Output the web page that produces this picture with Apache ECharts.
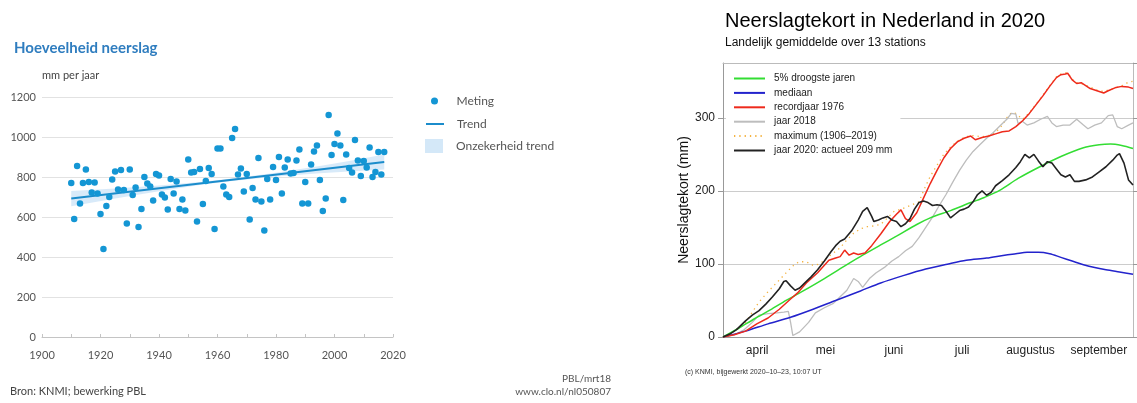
<!DOCTYPE html>
<html>
<head>
<meta charset="utf-8">
<script src="https://cdn.jsdelivr.net/npm/echarts@6/dist/echarts.min.js"></script>
<style>
html, body { margin: 0; padding: 0; background: #fff; }
#chart { width: 1137px; height: 403px; }
</style>
</head>
<body>
<div id="chart"></div>
<script>
// linker grafiek: jaarlijkse neerslag
const years = [1910, 1911, 1912, 1913, 1914, 1915, 1916, 1917, 1918, 1919,
  1920, 1921, 1922, 1923, 1924, 1925, 1926, 1927, 1928, 1929,
  1930, 1931, 1932, 1933, 1934, 1935, 1936, 1937, 1938, 1939,
  1940, 1941, 1942, 1943, 1944, 1945, 1946, 1947, 1948, 1949,
  1950, 1951, 1952, 1953, 1954, 1955, 1956, 1957, 1958, 1959,
  1960, 1961, 1962, 1963, 1964, 1965, 1966, 1967, 1968, 1969,
  1970, 1971, 1972, 1973, 1974, 1975, 1976, 1977, 1978, 1979,
  1980, 1981, 1982, 1983, 1984, 1985, 1986, 1987, 1988, 1989,
  1990, 1991, 1992, 1993, 1994, 1995, 1996, 1997, 1998, 1999,
  2000, 2001, 2002, 2003, 2004, 2005, 2006, 2007, 2008, 2009,
  2010, 2011, 2012, 2013, 2014, 2015, 2016, 2017]
const rainfall = [770, 590, 855, 667, 770, 838, 775, 723, 773, 717,
  615, 440, 655, 700, 788, 827, 738, 835, 735, 567,
  838, 710, 747, 550, 640, 800, 767, 753, 682, 815,
  808, 713, 698, 637, 790, 718, 777, 640, 687, 632,
  888, 823, 825, 577, 840, 665, 780, 845, 815, 540,
  942, 942, 752, 713, 700, 995, 1040, 813, 842, 727,
  815, 587, 745, 688, 895, 678, 533, 790, 687, 850,
  785, 900, 717, 847, 887, 817, 820, 882, 938, 668,
  775, 668, 862, 927, 957, 785, 630, 692, 1110, 910,
  965, 1017, 957, 685, 912, 845, 822, 985, 883, 805,
  880, 847, 947, 800, 825, 925, 812, 925]
const trendYears = [1910, 2017]
const trendValues = [692, 875]
const bandYears = [1910, 1925, 1940, 1955, 1965, 1980, 1995, 2005, 2017]
const bandLow = [654, 693, 729, 762, 780, 803, 819, 828, 837]
const bandHigh = [730, 743, 757, 776, 792, 821, 855, 880, 913]

// rechter grafiek: neerslagtekort, [dag sinds 1 april, mm]
const months = ['april', 'mei', 'juni', 'juli', 'augustus', 'september']
const droogste = [[0, 0], [7, 12], [14, 25], [21, 37], [28, 50], [35, 62], [45, 80], [55, 99], [62, 112], [70, 126],
  [77, 138], [86, 154], [92, 163], [101, 173], [110, 184], [116, 191], [123, 201], [131, 217], [140, 232],
  [150, 247], [160, 259], [167, 263], [172, 264], [177, 262], [182, 258]]
const mediaan = [[0, 0], [10, 8], [20, 18], [30, 27], [40, 38], [50, 50], [61, 63], [70, 74], [80, 84], [90, 93],
  [100, 100], [108, 105], [117, 108], [125, 112], [130, 114], [135, 116], [140, 116], [145, 114], [150, 109],
  [155, 104], [160, 99], [165, 95], [170, 92], [176, 89], [182, 86]]
const record1976 = [[0, 0], [5, 3], [10, 8], [15, 18], [20, 26], [25, 38], [30, 52], [33, 60], [37, 74], [42, 88],
  [47, 105], [50, 108], [52, 110], [54, 119], [56, 112], [58, 115], [60, 113], [63, 115], [66, 125], [70, 141],
  [74, 158], [77, 168], [79, 174], [81, 162], [83, 158], [86, 170], [89, 190], [92, 210], [95, 228], [98, 245],
  [101, 258], [104, 267], [107, 272], [110, 275], [112, 270], [115, 273], [118, 275], [121, 278], [124, 281],
  [127, 282], [130, 288], [133, 296], [136, 306], [139, 318], [142, 330], [145, 343], [148, 355], [150, 359],
  [152, 360], [153, 361], [155, 352], [157, 347], [159, 348], [161, 344], [163, 340], [165, 338], [167, 336],
  [169, 334], [171, 337], [174, 341], [177, 343], [180, 342], [182, 340]]
const jaar2018 = [[0, 0], [5, 3], [9, 9], [13, 20], [16, 30], [20, 32], [24, 33], [27, 34], [29, 35], [30, 20],
  [31, 2], [34, 7], [38, 20], [41, 33], [45, 40], [49, 46], [52, 55], [55, 64], [58, 80], [60, 76], [62, 68],
  [65, 80], [68, 88], [72, 96], [75, 104], [78, 110], [81, 118], [84, 124], [87, 136], [90, 150], [93, 164],
  [96, 180], [99, 195], [102, 212], [105, 228], [108, 242], [111, 254], [114, 263], [117, 272], [120, 280],
  [123, 289], [126, 298], [128, 306], [130, 305], [131, 292], [133, 295], [135, 290], [138, 293], [141, 298],
  [144, 302], [146, 293], [148, 288], [151, 290], [154, 290], [157, 298], [160, 290], [162, 285], [165, 290],
  [168, 293], [171, 303], [173, 304], [175, 288], [177, 285], [180, 290], [182, 293]]
const maximum = [[0, 0], [5, 8], [10, 20], [16, 48], [20, 62], [25, 78], [29, 91], [32, 100], [34, 103], [37, 103],
  [40, 98], [43, 100], [46, 108], [49, 115], [52, 122], [55, 133], [58, 142], [61, 148], [64, 151], [67, 152],
  [70, 154], [73, 163], [76, 172], [80, 176], [84, 181], [87, 185], [89, 200], [92, 220], [95, 235], [98, 250],
  [101, 260], [104, 268], [107, 273], [110, 276], [115, 274], [118, 276], [121, 280], [124, 290], [126, 300],
  [128, 307], [130, 306], [133, 298], [136, 307], [139, 319], [142, 331], [145, 344], [148, 356], [150, 360],
  [153, 362], [155, 353], [157, 348], [160, 346], [163, 342], [166, 338], [169, 336], [172, 339], [175, 342],
  [178, 345], [180, 349], [182, 350]]
const jaar2020 = [[0, 0], [3, 4], [6, 10], [10, 22], [13, 30], [16, 36], [19, 45], [22, 55], [25, 66], [27, 76],
  [28, 77], [30, 70], [32, 64], [34, 67], [36, 73], [39, 82], [42, 92], [45, 104], [48, 117], [50, 125],
  [52, 131], [54, 134], [57, 145], [60, 160], [62, 172], [64, 177], [66, 165], [67, 158], [69, 160], [71, 163],
  [73, 165], [75, 160], [77, 158], [79, 151], [81, 155], [83, 162], [85, 175], [87, 184], [89, 186], [91, 184],
  [93, 180], [95, 181], [97, 180], [99, 172], [101, 163], [103, 168], [105, 173], [107, 175], [109, 178],
  [111, 185], [113, 195], [115, 200], [117, 194], [119, 198], [121, 207], [124, 214], [127, 222], [130, 232],
  [132, 240], [134, 250], [136, 245], [138, 250], [140, 241], [142, 233], [144, 240], [146, 238], [148, 230],
  [150, 222], [152, 219], [154, 222], [156, 213], [158, 213], [161, 215], [164, 219], [167, 226], [170, 233],
  [173, 242], [175, 249], [176, 251], [178, 238], [180, 215], [182, 208]]

const leftFont = 'Lato'
const rightFont = 'Liberation Sans'
const leftText = { fontFamily: leftFont, fontSize: 12, color: '#555' }

const chart = echarts.init(document.getElementById('chart'))

const option = {
  animation: false,
  backgroundColor: '#fff',
  title: [
    {
      text: 'Hoeveelheid neerslag',
      left: 9,
      top: 36,
      textStyle: { fontFamily: leftFont, fontSize: 15, fontWeight: 'bold', color: '#2f7dbf' }
    },
    {
      text: 'Neerslagtekort in Nederland in 2020',
      subtext: 'Landelijk gemiddelde over 13 stations',
      left: 720,
      top: 6,
      itemGap: 6,
      textStyle: { fontFamily: rightFont, fontSize: 20, fontWeight: 'normal', color: '#000' },
      subtextStyle: { fontFamily: rightFont, fontSize: 12, color: '#111' }
    }
  ],
  legend: [
    {
      data: ['Meting'],
      left: 431, top: 95, padding: 0,
      itemWidth: 18, itemHeight: 7,
      itemStyle: { opacity: 1 },
      textStyle: Object.assign({ padding: [0, 0, 0, 8] }, leftText)
    },
    {
      data: ['Trend'],
      left: 425, top: 118, padding: 0,
      itemWidth: 18, itemHeight: 12,
      itemStyle: { opacity: 0 },
      textStyle: Object.assign({ padding: [0, 0, 0, 8] }, leftText)
    },
    {
      data: [{ name: 'Onzekerheid trend', icon: 'rect', itemStyle: { color: '#d4e8f8' } }],
      left: 425, top: 139, padding: 0,
      itemWidth: 18, itemHeight: 14,
      textStyle: Object.assign({ padding: [0, 0, 0, 8] }, leftText)
    },
    {
      data: ['5% droogste jaren', 'mediaan', 'recordjaar 1976', 'jaar 2018', 'maximum (1906\u20132019)', 'jaar 2020: actueel 209 mm'],
      orient: 'vertical',
      left: 726, top: 67.5,
      padding: [6, 8, 6, 7],
      itemWidth: 31, itemHeight: 10, itemGap: 4.4,
      backgroundColor: '#fff',
      itemStyle: { opacity: 0 },
      textStyle: { fontFamily: rightFont, fontSize: 10, color: '#222', padding: [0, 0, 0, 4] }
    }
  ],
  grid: [
    { left: 42, right: 744, top: 97, bottom: 66, outerBoundsMode: 'none' },
    { left: 723, right: 4, top: 63, bottom: 66, outerBoundsMode: 'none' }
  ],
  xAxis: [
    {
      gridIndex: 0, type: 'value', min: 1900, max: 2020, interval: 10,
      axisLine: { lineStyle: { color: '#c4c4c4' } },
      axisTick: { inside: true, length: 3, lineStyle: { color: '#c4c4c4' } },
      splitLine: { show: false },
      axisLabel: {
        margin: 13, fontFamily: leftFont, fontSize: 11, color: '#555',
        formatter: v => (v % 20 === 0 ? String(v) : '')
      }
    },
    { gridIndex: 1, type: 'value', min: 0, max: 182, show: false, position: 'bottom' },
    {
      gridIndex: 1, type: 'category', data: months, position: 'bottom',
      axisLine: { lineStyle: { color: '#999' } },
      axisTick: { interval: 0, length: 5, lineStyle: { color: '#999' } },
      axisLabel: { interval: 0, margin: 8, fontFamily: rightFont, fontSize: 12, color: '#222' }
    },
    {
      gridIndex: 1, type: 'category', data: months, position: 'top',
      axisLine: { lineStyle: { color: '#bbb' } },
      axisTick: { interval: 0, inside: true, length: 4, lineStyle: { color: '#999' } },
      axisLabel: { show: false }
    }
  ],
  yAxis: [
    {
      gridIndex: 0, type: 'value', min: 0, max: 1200, interval: 200,
      axisLine: { show: false }, axisTick: { show: false },
      splitLine: { lineStyle: { color: '#e2e2e2' } },
      axisLabel: { margin: 6, fontFamily: leftFont, fontSize: 11, color: '#555', formatter: v => String(v) }
    },
    {
      gridIndex: 1, type: 'value', min: 0, max: 375, interval: 100,
      name: 'Neerslagtekort (mm)', nameLocation: 'middle', nameGap: 32,
      nameTextStyle: { fontFamily: rightFont, fontSize: 14, color: '#111' },
      axisLine: { show: true, lineStyle: { color: '#999' } },
      axisTick: { show: true, length: 5, lineStyle: { color: '#999' } },
      splitLine: { lineStyle: { color: '#ccc' } },
      axisLabel: { showMaxLabel: false, margin: 8, fontFamily: rightFont, fontSize: 12, color: '#222' }
    },
    {
      gridIndex: 1, type: 'value', min: 0, max: 375, interval: 100, position: 'right',
      axisLine: { show: true, lineStyle: { color: '#bbb' } },
      axisTick: { show: true, length: 4, lineStyle: { color: '#999' } },
      axisLabel: { show: false },
      splitLine: { show: false }
    }
  ],
  graphic: [
    { type: 'text', left: 42, top: 70, style: { text: 'mm per jaar', font: '11px Lato', fill: '#444' } },
    { type: 'text', left: 10, top: 386, style: { text: 'Bron: KNMI; bewerking PBL', font: '11px Lato', fill: '#444' } },
    { type: 'text', right: 526, top: 374, style: { text: 'PBL/mrt18', font: '10px Lato', fill: '#555', align: 'right' } },
    { type: 'text', right: 526, top: 387, style: { text: 'www.clo.nl/nl050807', font: '10px Lato', fill: '#555', align: 'right' } },
    { type: 'text', left: 685, top: 369, style: { text: '(c) KNMI, bijgewerkt 2020\u201310\u201323, 10:07 UT', font: '7px "Liberation Sans"', fill: '#333' } }
  ],
  series: [
    {
      name: 'Onzekerheid trend',
      type: 'custom',
      xAxisIndex: 0, yAxisIndex: 0,
      silent: true,
      itemStyle: { color: '#d4e8f8' },
      data: [[bandYears[0], bandLow[0]]],
      renderItem: function (params, api) {
        const pts = []
        bandYears.forEach((y, i) => pts.push(api.coord([y, bandHigh[i]])))
        for (let i = bandYears.length - 1; i >= 0; i--) pts.push(api.coord([bandYears[i], bandLow[i]]))
        return { type: 'polygon', shape: { points: pts }, style: { fill: '#d4e8f8', opacity: 0.9 } }
      },
      z: 1
    },
    {
      name: 'Trend',
      type: 'line',
      xAxisIndex: 0, yAxisIndex: 0,
      data: trendYears.map((y, i) => [y, trendValues[i]]),
      symbol: 'none',
      lineStyle: { color: '#1b8ccb', width: 2 },
      itemStyle: { color: '#1b8ccb' },
      z: 3
    },
    {
      name: 'Meting',
      type: 'scatter',
      xAxisIndex: 0, yAxisIndex: 0,
      data: years.map((y, i) => [y, rainfall[i]]),
      symbolSize: 6.5,
      itemStyle: { color: '#1496d4', opacity: 1 },
      z: 4
    },
    {
      name: 'maximum (1906\u20132019)', type: 'line', xAxisIndex: 1, yAxisIndex: 1,
      data: maximum, symbol: 'none',
      lineStyle: { color: '#f4b342', width: 1.3, type: [1.3, 4] }, itemStyle: { color: '#f4b342' }
    },
    {
      name: 'jaar 2018', type: 'line', xAxisIndex: 1, yAxisIndex: 1,
      data: jaar2018, symbol: 'none',
      lineStyle: { color: '#bdbdbd', width: 1.3 }, itemStyle: { color: '#bdbdbd' }
    },
    {
      name: '5% droogste jaren', type: 'line', xAxisIndex: 1, yAxisIndex: 1,
      data: droogste, symbol: 'none', smooth: 0.3,
      lineStyle: { color: '#33dd33', width: 1.5 }, itemStyle: { color: '#33dd33' }
    },
    {
      name: 'mediaan', type: 'line', xAxisIndex: 1, yAxisIndex: 1,
      data: mediaan, symbol: 'none', smooth: 0.3,
      lineStyle: { color: '#2323cc', width: 1.5 }, itemStyle: { color: '#2323cc' }
    },
    {
      name: 'recordjaar 1976', type: 'line', xAxisIndex: 1, yAxisIndex: 1,
      data: record1976, symbol: 'none',
      lineStyle: { color: '#ee2a1c', width: 1.5 }, itemStyle: { color: '#ee2a1c' }
    },
    {
      name: 'jaar 2020: actueel 209 mm', type: 'line', xAxisIndex: 1, yAxisIndex: 1,
      data: jaar2020, symbol: 'none',
      lineStyle: { color: '#222', width: 1.6 }, itemStyle: { color: '#222' }
    }
  ]
}

chart.setOption(option)
</script>
</body>
</html>
